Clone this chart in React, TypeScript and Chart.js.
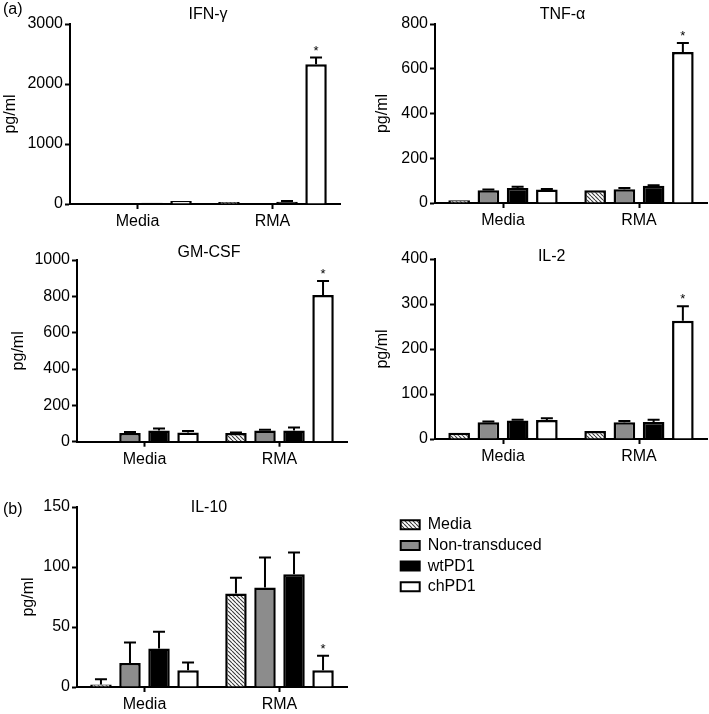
import React, { useEffect, useRef } from 'react';
import { Chart, registerables } from 'chart.js';

Chart.register(...registerables);

const FONT = "'Liberation Sans', Arial, Helvetica, sans-serif";

// ---- data ----
const categories = ['Media', 'RMA'];
const seriesLabels = ['Media', 'Non-transduced', 'wtPD1', 'chPD1'];

// rows = series (Media, Non-transduced, wtPD1, chPD1); columns = [Media, RMA]
const ifnGammaValues = [[0, 35], [0, 0], [22, 38], [48, 2330]];
const ifnGammaErrors = [[0, 0], [0, 0], [0, 12], [0, 110]];
const ifnGammaTicks = [0, 1000, 2000, 3000];

const tnfAlphaValues = [[12, 57], [57, 61], [67, 77], [60, 675]];
const tnfAlphaErrors = [[0, 0], [3, 6], [6, 2], [3, 40]];
const tnfAlphaTicks = [0, 200, 400, 600, 800];

const gmCsfValues = [[0, 48], [48, 61], [61, 61], [51, 808]];
const gmCsfErrors = [[0, 3], [5, 5], [12, 17], [8, 77]];
const gmCsfTicks = [0, 200, 400, 600, 800, 1000];

const il2Values = [[14, 18], [37, 37], [41, 38], [42, 263]];
const il2Errors = [[0, 0], [2, 3], [2, 5], [4, 32]];
const il2Ticks = [0, 100, 200, 300, 400];

const il10Values = [[2, 78], [20, 83], [32, 94], [14, 14]];
const il10Errors = [[4.5, 13], [17, 25], [14, 18], [6.5, 12]];
const il10Ticks = [0, 50, 100, 150];

const ifnGammaStars = [[false, false], [false, false], [false, false], [false, true]];
const tnfAlphaStars = [[false, false], [false, false], [false, false], [false, true]];
const gmCsfStars = [[false, false], [false, false], [false, false], [false, true]];
const il2Stars = [[false, false], [false, false], [false, false], [false, true]];
const il10Stars = [[false, false], [false, false], [false, false], [false, true]];

const panelTitles = ['IFN-γ', 'TNF-α', 'GM-CSF', 'IL-2', 'IL-10'];
const yAxisTitle = 'pg/ml';

// ---- layout (page pixels) ----
const panels = [
  { title: panelTitles[0], values: ifnGammaValues, errors: ifnGammaErrors, ticks: ifnGammaTicks, stars: ifnGammaStars,
    left: 0, top: 0, w: 350, h: 240, plotLeft: 70, plotRight: 340, plotTop: 24, zero: 204, yTitleX: 11,
    titleX: 208, titleY: 15, tag: '(a)', tagX: 3, tagY: 10 },
  { title: panelTitles[1], values: tnfAlphaValues, errors: tnfAlphaErrors, ticks: tnfAlphaTicks, stars: tnfAlphaStars,
    left: 355, top: 0, w: 354, h: 240, plotLeft: 435, plotRight: 707, plotTop: 24, zero: 203, yTitleX: 382.6,
    titleX: 562.5, titleY: 15 },
  { title: panelTitles[2], values: gmCsfValues, errors: gmCsfErrors, ticks: gmCsfTicks, stars: gmCsfStars,
    left: 0, top: 240, w: 355, h: 235, plotLeft: 77, plotRight: 347, plotTop: 260, zero: 441.7, yTitleX: 19,
    titleX: 209, titleY: 253 },
  { title: panelTitles[3], values: il2Values, errors: il2Errors, ticks: il2Ticks, stars: il2Stars,
    left: 355, top: 240, w: 354, h: 235, plotLeft: 435, plotRight: 707, plotTop: 259, zero: 439, yTitleX: 382.6,
    titleX: 551.7, titleY: 257 },
  { title: panelTitles[4], values: il10Values, errors: il10Errors, ticks: il10Ticks, stars: il10Stars,
    left: 0, top: 475, w: 355, h: 239, plotLeft: 77, plotRight: 347, plotTop: 507, zero: 687, yTitleX: 29,
    titleX: 209, titleY: 508, tag: '(b)', tagX: 3, tagY: 510 },
];

const legendBox = { left: 396, top: 512, w: 313, h: 100 };

function makeHatch(): CanvasPattern | string {
  const c = document.createElement('canvas');
  c.width = 4;
  c.height = 4;
  const g = c.getContext('2d');
  if (!g) return '#bbb';
  g.fillStyle = '#ffffff';
  g.fillRect(0, 0, 4, 4);
  g.strokeStyle = '#3a3a3a';
  g.lineWidth = 1.1;
  g.beginPath();
  for (const k of [-4, 0, 4]) {
    g.moveTo(k, 0);
    g.lineTo(k + 4, 4);
  }
  g.stroke();
  return g.createPattern(c, 'repeat') || '#bbb';
}

const errorBarPlugin = {
  id: 'errorBars',
  afterDatasetsDraw(chart: any) {
    const ctx = chart.ctx;
    const yScale = chart.scales.y;
    chart.data.datasets.forEach((ds: any, di: number) => {
      const meta = chart.getDatasetMeta(di);
      meta.data.forEach((bar: any, i: number) => {
        const v = ds.data[i];
        const e = (ds.errors && ds.errors[i]) || 0;
        const yTop = yScale.getPixelForValue(v + e);
        ctx.save();
        ctx.strokeStyle = '#000';
        ctx.lineWidth = 2;
        if (e > 0) {
          ctx.beginPath();
          ctx.moveTo(bar.x, bar.y);
          ctx.lineTo(bar.x, yTop);
          ctx.moveTo(bar.x - 6, yTop);
          ctx.lineTo(bar.x + 6, yTop);
          ctx.stroke();
        }
        if (ds.stars && ds.stars[i]) {
          ctx.fillStyle = '#000';
          ctx.font = `13px ${FONT}`;
          ctx.textAlign = 'center';
          ctx.textBaseline = 'alphabetic';
          ctx.fillText('*', bar.x, yTop - 3);
        }
        ctx.restore();
      });
    });
  },
};

function makeTextPlugin(items: { text: string; x: number; y: number; align: CanvasTextAlign }[]) {
  return {
    id: 'panelText',
    afterDraw(chart: any) {
      const ctx = chart.ctx;
      ctx.save();
      ctx.fillStyle = '#000';
      ctx.font = `16px ${FONT}`;
      ctx.textBaseline = 'middle';
      items.forEach((it) => {
        ctx.textAlign = it.align;
        ctx.fillText(it.text, it.x, it.y);
      });
      ctx.restore();
    },
  };
}

export default function App() {
  const refs = useRef<(HTMLCanvasElement | null)[]>([]);
  const legendRef = useRef<HTMLCanvasElement | null>(null);

  useEffect(() => {
    const hatch = makeHatch();
    const fills = [hatch, '#8c8c8c', '#000000', '#ffffff'];
    const charts: Chart[] = [];

    panels.forEach((p, pi) => {
      const canvas = refs.current[pi];
      if (!canvas) return;
      const items: { text: string; x: number; y: number; align: CanvasTextAlign }[] = [
        { text: p.title, x: p.titleX - p.left, y: p.titleY - p.top, align: 'center' },
      ];
      if (p.tag) items.push({ text: p.tag, x: p.tagX - p.left, y: p.tagY - p.top, align: 'left' });
      const ticks = p.ticks;
      const chart = new Chart(canvas, {
        type: 'bar',
        data: {
          labels: categories,
          datasets: seriesLabels.map((name, s) => ({
            label: name,
            data: p.values[s],
            errors: p.errors[s],
            stars: p.stars[s],
            backgroundColor: fills[s],
            borderColor: '#000',
            borderWidth: 2.5,
            barPercentage: 0.74,
            categoryPercentage: 0.86,
          })) as any,
        },
        options: {
          responsive: false,
          animation: false,
          events: [],
          layout: {
            padding: { top: p.plotTop - p.top, right: p.left + p.w - p.plotRight, left: 0, bottom: 0 },
          },
          plugins: {
            legend: { display: false },
            tooltip: { enabled: false },
          },
          scales: {
            x: {
              offset: true,
              grid: {
                display: true,
                drawOnChartArea: false,
                drawTicks: true,
                tickLength: 5,
                tickWidth: 2,
                tickColor: '#000',
                offset: false,
              },
              border: { display: true, color: '#000', width: 2 },
              ticks: { color: '#000', font: { family: FONT, size: 16 }, padding: 3, maxRotation: 0 },
              afterFit: (s: any) => {
                s.height = p.top + p.h - p.zero;
              },
            },
            y: {
              min: ticks[0],
              max: ticks[ticks.length - 1],
              afterBuildTicks: (s: any) => {
                s.ticks = ticks.map((v) => ({ value: v }));
              },
              grid: {
                display: true,
                drawOnChartArea: false,
                drawTicks: true,
                tickLength: 5,
                tickWidth: 2,
                tickColor: '#000',
              },
              border: { display: true, color: '#000', width: 2 },
              ticks: {
                color: '#000',
                font: { family: FONT, size: 16 },
                padding: 2,
                callback: (v: any) => String(v),
              },
              title: {
                display: true,
                text: yAxisTitle,
                color: '#000',
                font: { family: FONT, size: 16 },
                padding: { top: p.yTitleX - p.left - 9.6, bottom: 0 },
              },
              afterFit: (s: any) => {
                s.width = p.plotLeft - p.left;
              },
            },
          },
        } as any,
        plugins: [errorBarPlugin, makeTextPlugin(items)],
      });
      charts.push(chart);
    });

    if (legendRef.current) {
      const legendChart = new Chart(legendRef.current, {
        type: 'bar',
        data: {
          labels: [''],
          datasets: seriesLabels.map((name, s) => ({
            label: name,
            data: [0],
            backgroundColor: fills[s],
            borderColor: '#000',
            borderWidth: 2,
          })),
        },
        options: {
          responsive: false,
          animation: false,
          events: [],
          layout: { padding: 0 },
          scales: { x: { display: false }, y: { display: false, min: 0, max: 1 } },
          plugins: {
            tooltip: { enabled: false },
            legend: {
              display: true,
              position: 'left',
              align: 'start',
              maxWidth: 300,
              labels: {
                boxWidth: 19,
                boxHeight: 9,
                padding: 4.7,
                color: '#000',
                font: { family: FONT, size: 16 },
              },
            },
          },
        } as any,
      });
      charts.push(legendChart);
    }

    return () => {
      charts.forEach((c) => c.destroy());
    };
  }, []);

  return (
    <div style={{ position: 'absolute', left: 0, top: 0, width: 709, height: 714, background: '#fff' }}>
      {panels.map((p, i) => (
        <canvas
          key={i}
          ref={(el) => {
            refs.current[i] = el;
          }}
          width={p.w}
          height={p.h}
          style={{ position: 'absolute', left: p.left, top: p.top, width: p.w, height: p.h }}
        />
      ))}
      <canvas
        ref={legendRef}
        width={legendBox.w}
        height={legendBox.h}
        style={{ position: 'absolute', left: legendBox.left, top: legendBox.top, width: legendBox.w, height: legendBox.h }}
      />
    </div>
  );
}
